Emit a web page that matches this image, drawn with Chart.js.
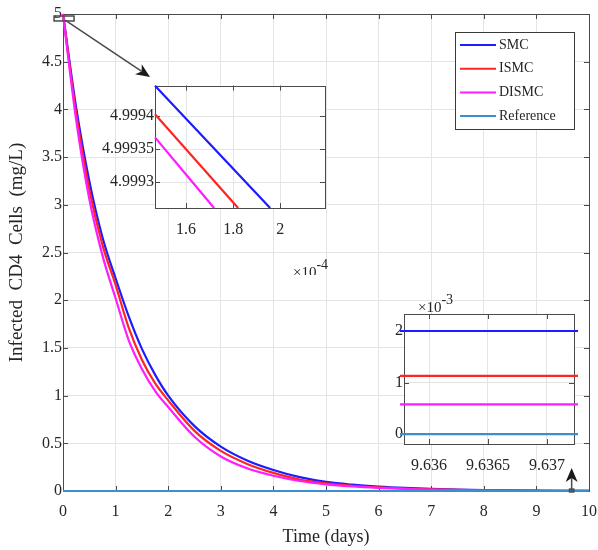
<!DOCTYPE html>
<html><head><meta charset="utf-8">
<script src="https://cdn.jsdelivr.net/npm/chart.js@4"></script>
<style>
html,body{margin:0;padding:0;background:#fff;}
#wrap{position:relative;width:598px;height:550px;overflow:hidden;}
canvas{position:absolute;}
#main{left:0;top:0;}
#ins1{left:95px;top:75px;}
#ins2{left:364px;top:290px;}
</style></head><body>
<div id="wrap">
<canvas id="main" width="598" height="550"></canvas>
<canvas id="ins1" width="240" height="200"></canvas>
<canvas id="ins2" width="234" height="190"></canvas>
</div>
<script>
// ---------- data ----------
const seriesNames = ['SMC', 'ISMC', 'DISMC', 'Reference'];
const seriesColors = ['#1c1cff', '#ff2424', '#ff1cff', '#3a8fd3'];

const timeDays = [0, 0.25, 0.5, 0.75, 1, 1.25, 1.5, 1.75, 2, 2.5, 3, 3.5, 4, 4.5, 5, 5.5, 6, 6.5, 7, 7.5, 8, 8.5, 9, 9.5, 10];
const smcValues   = [5, 4.02, 3.25, 2.66, 2.23, 1.83, 1.49, 1.22, 1.0, 0.68, 0.465, 0.32, 0.22, 0.145, 0.095, 0.066, 0.046, 0.032, 0.022, 0.015, 0.01, 0.0068, 0.0045, 0.0027, 0.0019];
const ismcValues  = [5, 3.96, 3.16, 2.58, 2.16, 1.71, 1.376, 1.13, 0.95, 0.63, 0.42, 0.284, 0.19, 0.12, 0.08, 0.055, 0.038, 0.026, 0.018, 0.012, 0.008, 0.0053, 0.0033, 0.0016, 0.0011];
const dismcValues = [5, 3.89, 3.06, 2.47, 2.02, 1.58, 1.28, 1.05, 0.88, 0.568, 0.362, 0.238, 0.16, 0.105, 0.07, 0.048, 0.033, 0.022, 0.015, 0.0095, 0.006, 0.0038, 0.0022, 0.0009, 0.0005];
const refTime = [0, 10];
const refValues = [0, 0];

const xTickValues = [0, 1, 2, 3, 4, 5, 6, 7, 8, 9, 10];
const xTickLabels = ['0', '1', '2', '3', '4', '5', '6', '7', '8', '9', '10'];
const yTickValues = [0, 0.5, 1, 1.5, 2, 2.5, 3, 3.5, 4, 4.5, 5];
const yTickLabels = ['0', '0.5', '1', '1.5', '2', '2.5', '3', '3.5', '4', '4.5', '5'];

// zoom inset 1 (start of the response)
const ins1SmcTime = [1.468e-4, 1.957e-4];
const ins1SmcValues = [4.999446, 4.999261];
const ins1IsmcTime = [1.468e-4, 1.821e-4];
const ins1IsmcValues = [4.999403, 4.999261];
const ins1DismcTime = [1.468e-4, 1.719e-4];
const ins1DismcValues = [4.999368, 4.999261];
const ins1XRange = [1.468e-4, 2.19e-4];
const ins1YRange = [4.999261, 4.9994464];
const ins1XTickValues = [1.6e-4, 1.8e-4, 2e-4];
const ins1XTickLabels = ['1.6', '1.8', '2'];
const ins1YTickValues = [4.9993, 4.99935, 4.9994];
const ins1YTickLabels = ['4.9993', '4.99935', '4.9994'];

// zoom inset 2 (steady state)
const ins2Time = [9.6357, 9.6373];
const ins2SmcValues = [0.002, 0.002];
const ins2IsmcValues = [0.00113, 0.00113];
const ins2DismcValues = [0.00058, 0.00058];
const ins2RefValues = [0, 0];
const ins2XRange = [9.635788, 9.637229];
const ins2YRange = [-0.00019, 0.00233];
const ins2XTickValues = [9.636, 9.6365, 9.637];
const ins2XTickLabels = ['9.636', '9.6365', '9.637'];
const ins2YTickValues = [0, 0.001, 0.002];
const ins2YTickLabels = ['0', '1', '2'];

// annotations (data coordinates of the main axes)
const zoomBox1 = {x: [-0.17, 0.21], y: [4.927, 4.979]};
const arrow1 = {from: [0.04, 4.937], to: [1.654, 4.34]};
const zoomBox2 = {x: [9.63, 9.71], y: [-0.01, 0.02]};
const arrow2 = {from: [9.67, 0.0], to: [9.67, 0.24]};

// ---------- styling ----------
const FONT = 'Liberation Serif';
const TEXT = '#262626';
const GRID = '#e4e4e4';
const FRAME = '#4a4a4a';

const pts = (xs, ys) => xs.map((x, i) => ({x: x, y: ys[i]}));

const framePlugin = {
  id: 'frame',
  beforeDraw(chart) {
    const a = chart.chartArea, c = chart.ctx;
    c.save(); c.fillStyle = '#ffffff';
    c.fillRect(a.left, a.top, a.right - a.left, a.bottom - a.top);
    c.restore();
  },
  beforeDatasetsDraw(chart) {
    const a = chart.chartArea, c = chart.ctx, L = 5;
    const xs = chart.scales.x, ys = chart.scales.y;
    c.save(); c.strokeStyle = FRAME; c.lineWidth = 1; c.beginPath();
    xs.ticks.forEach(t => {
      const p = Math.round(xs.getPixelForValue(t.value)) + 0.5;
      c.moveTo(p, a.bottom); c.lineTo(p, a.bottom - L);
      c.moveTo(p, a.top); c.lineTo(p, a.top + L);
    });
    ys.ticks.forEach(t => {
      const p = Math.round(ys.getPixelForValue(t.value)) + 0.5;
      c.moveTo(a.left, p); c.lineTo(a.left + L, p);
      c.moveTo(a.right, p); c.lineTo(a.right - L, p);
    });
    c.stroke();
    c.strokeRect(Math.round(a.left) + 0.5, Math.round(a.top) + 0.5, Math.round(a.right - a.left), Math.round(a.bottom - a.top));
    c.restore();
  }
};

function drawArrow(c, x1, y1, x2, y2) {
  const ang = Math.atan2(y2 - y1, x2 - x1), hl = 14, hw = 6, notch = 4;
  const cx = Math.cos(ang), sy = Math.sin(ang);
  c.beginPath(); c.moveTo(x1, y1); c.lineTo(x2 - cx * (hl - notch), y2 - sy * (hl - notch)); c.stroke();
  const bx = x2 - cx * hl, by = y2 - sy * hl, nx = -sy, ny = cx;
  c.beginPath(); c.moveTo(x2, y2); c.lineTo(bx + nx * hw, by + ny * hw);
  c.lineTo(x2 - cx * (hl - notch), y2 - sy * (hl - notch));
  c.lineTo(bx - nx * hw, by - ny * hw); c.closePath(); c.fill();
}

const annotPlugin = {
  id: 'annot',
  afterDraw(chart) {
    const c = chart.ctx, xs = chart.scales.x, ys = chart.scales.y;
    const X = v => xs.getPixelForValue(v), Y = v => ys.getPixelForValue(v);
    c.save();
    c.strokeStyle = '#4a4a4a'; c.fillStyle = '#1a1a1a'; c.lineWidth = 1.5;
    [zoomBox1, zoomBox2].forEach(b => {
      c.strokeRect(X(b.x[0]), Y(b.y[1]), X(b.x[1]) - X(b.x[0]), Y(b.y[0]) - Y(b.y[1]));
    });
    [arrow1, arrow2].forEach(ar => {
      drawArrow(c, X(ar.from[0]), Y(ar.from[1]), X(ar.to[0]), Y(ar.to[1]));
    });
    // legend
    const a = chart.chartArea;
    const w = 119, h = 97, left = a.right - 134, top = a.top + 18;
    c.fillStyle = '#ffffff'; c.fillRect(left, top, w, h);
    c.strokeStyle = '#3a3a3a'; c.lineWidth = 1;
    c.strokeRect(Math.round(left) + 0.5, Math.round(top) + 0.5, w, h);
    c.font = '14px "' + FONT + '"'; c.textBaseline = 'middle'; c.textAlign = 'left';
    chart.data.datasets.forEach((ds, i) => {
      const y = top + 13 + i * 23.7;
      c.strokeStyle = ds.borderColor; c.lineWidth = 2;
      c.beginPath(); c.moveTo(left + 5, y); c.lineTo(left + 41, y); c.stroke();
      c.fillStyle = TEXT; c.fillText(ds.label, left + 44, y);
    });
    c.restore();
  }
};

function expLabel(dx, dy, exp, fromRight) {
  return {
    id: 'exp',
    afterDraw(chart) {
      const a = chart.chartArea, c = chart.ctx;
      c.save(); c.fillStyle = TEXT; c.textAlign = 'left'; c.textBaseline = 'alphabetic';
      const x0 = fromRight ? a.right + dx : a.left + dx;
      const y0 = a.top + dy;
      c.font = '15px "' + FONT + '"';
      c.fillText('\u00d710', x0, y0);
      const w = c.measureText('\u00d710').width;
      c.font = '14px "' + FONT + '"';
      c.fillText(exp, x0 + w, y0 - 8);
      c.restore();
    }
  };
}

function axisCfg(min, max, tickVals, tickLabels, size, extra) {
  return Object.assign({
    type: 'linear', min: min, max: max,
    afterBuildTicks: s => { s.ticks = tickVals.map(v => ({value: v})); },
    ticks: {font: {family: FONT, size: size}, color: TEXT, autoSkip: false, maxRotation: 0,
            callback: (v, i) => tickLabels[i]},
    grid: {color: GRID, drawTicks: false, lineWidth: 1},
    border: {display: false}
  }, extra);
}

function ds(label, color, data, order) {
  return {label: label, data: data, borderColor: color, backgroundColor: color,
          borderWidth: 2.2, pointRadius: 0, cubicInterpolationMode: 'monotone',
          fill: false, order: order, clip: 4};
}

const baseOpts = {
  responsive: false, animation: false, devicePixelRatio: 1, events: [],
  plugins: {legend: {display: false}, tooltip: {enabled: false}}
};

// ---------- main chart ----------
const mx = axisCfg(0, 10, xTickValues, xTickLabels, 16, {
  afterFit: s => { s.height = 59; s.paddingLeft = 0; s.paddingRight = 0; },
  title: {display: true, text: 'Time (days)', font: {family: FONT, size: 18}, color: TEXT, padding: {top: 0, bottom: 2}}
});
mx.ticks.padding = 11;
const my = axisCfg(0, 5, yTickValues, yTickLabels, 16, {
  afterFit: s => { s.width = 63; },
  title: {display: true, text: 'Infected  CD4  Cells  (mg/L)', font: {family: FONT, size: 19}, color: TEXT, padding: {top: 6, bottom: 0}}
});
my.ticks.padding = 1;

new Chart(document.getElementById('main'), {
  type: 'line',
  data: {datasets: [
    ds(seriesNames[0], seriesColors[0], pts(timeDays, smcValues), 3),
    ds(seriesNames[1], seriesColors[1], pts(timeDays, ismcValues), 2),
    ds(seriesNames[2], seriesColors[2], pts(timeDays, dismcValues), 1),
    ds(seriesNames[3], seriesColors[3], pts(refTime, refValues), 0)
  ]},
  options: Object.assign({}, baseOpts, {
    layout: {padding: {left: 0, top: 14, right: 9, bottom: 0}},
    scales: {x: mx, y: my}
  }),
  plugins: [framePlugin, annotPlugin]
});

// ---------- inset 1 ----------
const i1x = axisCfg(ins1XRange[0], ins1XRange[1], ins1XTickValues, ins1XTickLabels, 16, {afterFit: s => { s.height = 67; s.paddingLeft = 0; s.paddingRight = 0; }});
i1x.ticks.padding = 12;
const i1y = axisCfg(ins1YRange[0], ins1YRange[1], ins1YTickValues, ins1YTickLabels, 16, {afterFit: s => { s.width = 60; }});
i1y.ticks.padding = 1;
new Chart(document.getElementById('ins1'), {
  type: 'line',
  data: {datasets: [
    ds(seriesNames[0], seriesColors[0], pts(ins1SmcTime, ins1SmcValues), 3),
    ds(seriesNames[1], seriesColors[1], pts(ins1IsmcTime, ins1IsmcValues), 2),
    ds(seriesNames[2], seriesColors[2], pts(ins1DismcTime, ins1DismcValues), 1)
  ]},
  options: Object.assign({}, baseOpts, {
    layout: {padding: {left: 0, top: 5, right: 10, bottom: 0}},
    scales: {x: i1x, y: i1y}
  }),
  plugins: [framePlugin, expLabel(-32, 191, '-4', true)]
});

// ---------- inset 2 ----------
const i2x = axisCfg(ins2XRange[0], ins2XRange[1], ins2XTickValues, ins2XTickLabels, 16, {afterFit: s => { s.height = 36; s.paddingLeft = 0; s.paddingRight = 0; }});
i2x.ticks.padding = 12;
const i2y = axisCfg(ins2YRange[0], ins2YRange[1], ins2YTickValues, ins2YTickLabels, 16, {afterFit: s => { s.width = 40; }});
i2y.ticks.padding = 1;
new Chart(document.getElementById('ins2'), {
  type: 'line',
  data: {datasets: [
    ds(seriesNames[0], seriesColors[0], pts(ins2Time, ins2SmcValues), 3),
    ds(seriesNames[1], seriesColors[1], pts(ins2Time, ins2IsmcValues), 2),
    ds(seriesNames[2], seriesColors[2], pts(ins2Time, ins2DismcValues), 1),
    ds(seriesNames[3], seriesColors[3], pts(ins2Time, ins2RefValues), 0)
  ]},
  options: Object.assign({}, baseOpts, {
    layout: {padding: {left: 0, top: 24, right: 24, bottom: 0}},
    scales: {x: i2x, y: i2y}
  }),
  plugins: [framePlugin, expLabel(14, -2, '-3', false)]
});
</script>
</body></html>
